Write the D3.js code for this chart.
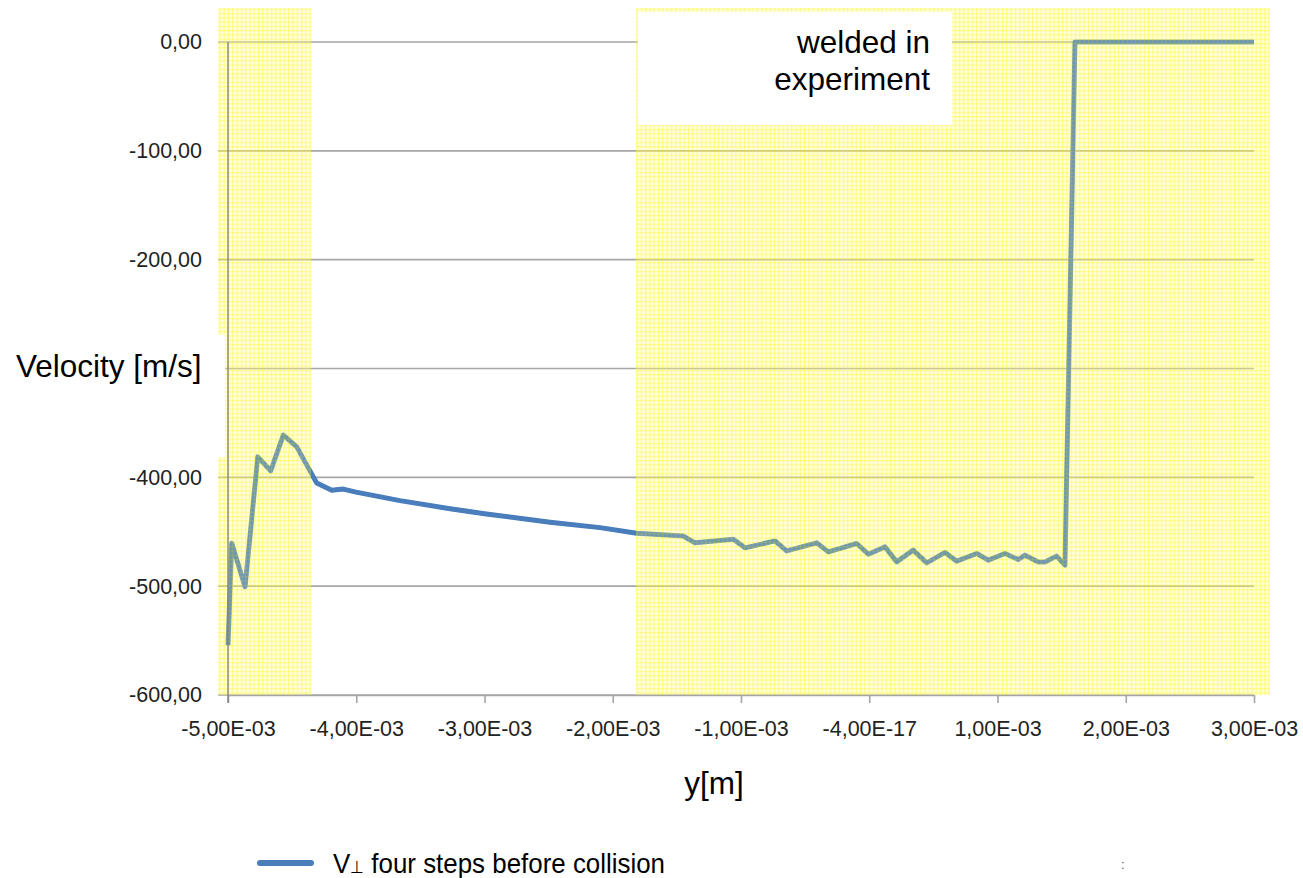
<!DOCTYPE html>
<html>
<head>
<meta charset="utf-8">
<script src="https://cdn.jsdelivr.net/npm/d3@7"></script>
<style>
  html, body { margin: 0; padding: 0; background: #fff; }
  svg { display: block; }
</style>
</head>
<body>
<svg id="chart" width="1303" height="878"></svg>
<script>
// ---- data (x in metres, y in m/s) ----
const yPos = [-5.000e-3, -4.971e-3, -4.867e-3, -4.768e-3, -4.667e-3, -4.569e-3, -4.464e-3, -4.308e-3, -4.191e-3, -4.101e-3,
  -4.002e-3, -3.659e-3, -3.269e-3, -3.000e-3, -2.489e-3, -2.099e-3, -1.813e-3, -1.450e-3, -1.359e-3, -1.060e-3,
  -0.969e-3, -0.735e-3, -0.644e-3, -0.410e-3, -0.319e-3, -0.098e-3, -0.007e-3, 0.123e-3, 0.214e-3, 0.343e-3,
  0.448e-3, 0.591e-3, 0.682e-3, 0.838e-3, 0.928e-3, 1.058e-3, 1.162e-3, 1.214e-3, 1.318e-3, 1.370e-3,
  1.461e-3, 1.526e-3, 1.604e-3, 3.000e-3];
const velocity = [-554.2, -460.5, -500.6, -381.2, -394.0, -361.2, -372.0, -405.3, -411.8, -410.8,
  -413.6, -421.4, -428.8, -433.4, -441.2, -446.2, -451.3, -454.0, -460.2, -456.8,
  -464.8, -458.4, -467.6, -460.2, -468.5, -460.8, -470.6, -463.9, -477.7, -466.9,
  -478.6, -469.0, -477.0, -470.0, -476.1, -470.0, -475.5, -471.5, -477.7, -477.7,
  -472.4, -480.7, 0, 0];
const xTickValues = [-5e-3, -4e-3, -3e-3, -2e-3, -1e-3, 0, 1e-3, 2e-3, 3e-3];
const xTickLabels = ["-5,00E-03", "-4,00E-03", "-3,00E-03", "-2,00E-03", "-1,00E-03", "-4,00E-17", "1,00E-03", "2,00E-03", "3,00E-03"];
const yTickValues = [0, -100, -200, -300, -400, -500, -600];
const yTickLabels = ["0,00", "-100,00", "-200,00", "-300,00", "-400,00", "-500,00", "-600,00"];
const seriesName = "four steps before collision";
const xTitle = "y[m]";
const yTitle = "Velocity [m/s]";
const annotationLines = ["welded in", "experiment"];
// highlighted (yellow) zones, in data units: [x0, x1, y0, y1]
const highlightZones = [
  [-5.078e-3, -4.353e-3, 31.3, -600],
  [-1.819e-3, 3.125e-3, 31.3, -600]
];
const annotationBox = [-1.803e-3, 0.645e-3, 27.6, -76.3];
// the y title sits on an opaque box (hides the -300 tick label, as in the original)
const yTitleBox = [-6.78e-3, -5.023e-3, -269.3, -381.4];

// ---- layout ----
const svg = d3.select("#chart");
const x = d3.scaleLinear().domain([-5e-3, 3e-3]).range([228, 1254]);
const y = d3.scaleLinear().domain([-600, 0]).range([695, 42]);
const font = "'Liberation Sans', Arial, sans-serif";

// pattern for yellow highlight
const defs = svg.append("defs");
const pat = defs.append("pattern").attr("id", "chk").attr("patternUnits", "userSpaceOnUse")
  .attr("width", 4.3).attr("height", 4.3);
pat.append("rect").attr("width", 4.3).attr("height", 4.3).attr("fill", "rgba(255,255,140,0.32)");
pat.append("rect").attr("width", 4.3).attr("height", 1.2).attr("fill", "rgba(255,240,0,0.32)");
pat.append("rect").attr("width", 1.2).attr("height", 4.3).attr("fill", "rgba(255,240,0,0.32)");

// gridlines
svg.append("g").selectAll("line").data(yTickValues).join("line")
  .attr("x1", 218).attr("x2", x(3e-3))
  .attr("y1", d => y(d)).attr("y2", d => y(d))
  .attr("stroke", "#a6a6a6").attr("stroke-width", 1.6);

// x axis
const xAxis = d3.axisBottom(x).tickValues(xTickValues)
  .tickFormat((d, i) => xTickLabels[i]).tickSizeInner(8).tickSizeOuter(0).tickPadding(18);
const gx = svg.append("g").attr("transform", `translate(0,${y(-600)})`).call(xAxis);
gx.select(".domain").attr("stroke", "#a6a6a6").attr("stroke-width", 1.6);
gx.selectAll(".tick line").attr("stroke", "#a6a6a6").attr("stroke-width", 1.6);
gx.selectAll(".tick text").attr("font-family", font).attr("font-size", 21.5).attr("fill", "#222");

// data line
const pts = yPos.map((v, i) => [v, velocity[i]]);
const lineGen = d3.line().x(d => x(d[0])).y(d => y(d[1]));
svg.append("path").datum(pts)
  .attr("d", lineGen)
  .attr("fill", "none").attr("stroke", "#4a7ebb").attr("stroke-width", 5)
  .attr("stroke-linejoin", "round").attr("stroke-linecap", "butt");

// yellow highlight overlays
svg.append("g").selectAll("rect").data(highlightZones).join("rect")
  .attr("x", d => x(d[0])).attr("width", d => x(d[1]) - x(d[0]))
  .attr("y", d => y(d[2])).attr("height", d => y(d[3]) - y(d[2]))
  .attr("fill", "url(#chk)");

// line tint showing through the highlight
svg.append("path").datum(pts)
  .attr("d", lineGen)
  .attr("fill", "none").attr("stroke", "#4a7ebb").attr("stroke-width", 4).attr("stroke-opacity", 0.4)
  .attr("stroke-linejoin", "round");

// y axis line
svg.append("line").attr("x1", x(-5e-3)).attr("x2", x(-5e-3)).attr("y1", y(0)).attr("y2", y(-600) + 8)
  .attr("stroke", "#7f7f7f").attr("stroke-width", 1.6).attr("stroke-opacity", 0.85);

// y axis labels (the -300 label is hidden beneath the title box in the original)
const titleTop = y(yTitleBox[2]), titleBottom = y(yTitleBox[3]);
const yAxis = d3.axisLeft(y).tickValues(yTickValues)
  .tickFormat((d, i) => yTickLabels[i]).tickSize(0).tickPadding(26);
const gy = svg.append("g").attr("transform", `translate(${x(-5e-3)},0)`).call(yAxis);
gy.select(".domain").remove();
gy.selectAll(".tick text").attr("font-family", font).attr("font-size", 21.5).attr("fill", "#222");
gy.selectAll(".tick").filter(d => y(d) > titleTop && y(d) < titleBottom).remove();

// y title box
svg.append("rect")
  .attr("x", x(yTitleBox[0])).attr("width", x(yTitleBox[1]) - x(yTitleBox[0]))
  .attr("y", titleTop).attr("height", titleBottom - titleTop).attr("fill", "#fff");

// annotation box
svg.append("rect")
  .attr("x", x(annotationBox[0])).attr("width", x(annotationBox[1]) - x(annotationBox[0]))
  .attr("y", y(annotationBox[2])).attr("height", y(annotationBox[3]) - y(annotationBox[2]))
  .attr("fill", "#fff");
const ann = svg.append("text").attr("font-family", font).attr("font-size", 31.5).attr("fill", "#000")
  .attr("text-anchor", "end");
annotationLines.forEach((t, i) => {
  ann.append("tspan").attr("x", 930).attr("y", 53 + i * 37).text(t);
});

// axis titles
svg.append("text").attr("x", 16).attr("y", 377).attr("font-family", font).attr("font-size", 31.5)
  .attr("fill", "#000").text(yTitle);
svg.append("text").attr("x", 714).attr("y", 794).attr("text-anchor", "middle").attr("font-family", font)
  .attr("font-size", 31.5).attr("fill", "#000").text(xTitle);

// legend
svg.append("line").attr("x1", 260).attr("x2", 311).attr("y1", 863).attr("y2", 863)
  .attr("stroke", "#4a7ebb").attr("stroke-width", 6).attr("stroke-linecap", "round");
const lg = svg.append("text").attr("x", 333).attr("y", 873).attr("font-family", font).attr("font-size", 28)
  .attr("fill", "#000").attr("textLength", 332).attr("lengthAdjust", "spacingAndGlyphs");
lg.append("tspan").text("V");
lg.append("tspan").attr("font-size", 17).text("\u22A5");
lg.append("tspan").text(" " + seriesName);
svg.append("text").attr("x", 1121).attr("y", 869).attr("font-family", font).attr("font-size", 13)
  .attr("fill", "#555").text(":");
</script>
</body>
</html>
